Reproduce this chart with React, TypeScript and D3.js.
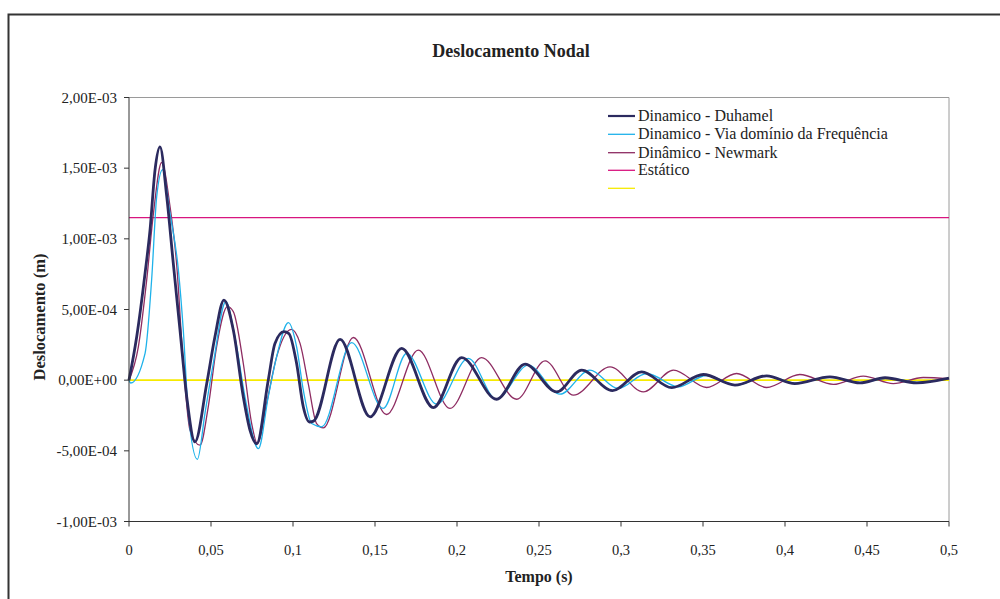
import React from "react";
import * as d3 from "d3";

// values in units of 1e-4 m ; time in s
const duhamel: [number, number][] = [
  [0, 0], [0.0047, 3.07], [0.0098, 7.57], [0.0128, 10.6], [0.0159, 14.9], [0.0189, 16.5],
  [0.023, 13], [0.027, 8.28], [0.0311, 3.55], [0.0352, -1.18], [0.0402, -4.37],
  [0.0474, -0.24], [0.0524, 3.07], [0.0579, 5.67], [0.0636, 3.55], [0.0697, -1.18],
  [0.0738, -3.55], [0.0779, -4.5], [0.0849, 0], [0.089, 2.6], [0.0945, 3.43], [0.0975, 3.3],
  [0.1022, 1.18], [0.1063, -1.9], [0.11, -2.96], [0.1125, -2.9], [0.1287, 2.88], [0.147, -2.6],
  [0.1663, 2.25], [0.1856, -1.94], [0.2028, 1.6], [0.2242, -1.35], [0.2415, 1.13],
  [0.2608, -0.83], [0.276, 0.71], [0.2948, -0.74], [0.3126, 0.59], [0.3309, -0.53],
  [0.3502, 0.4], [0.3695, -0.35], [0.3888, 0.31], [0.406, -0.24], [0.4274, 0.24],
  [0.4457, -0.19], [0.461, 0.17], [0.4803, -0.19], [0.5, 0.14],
];

const frequencia: [number, number][] = [
  [0, 0], [0.001, -0.2], [0.0098, 1.9], [0.0138, 7.1], [0.0169, 13], [0.0205, 14.9],
  [0.025, 11.8], [0.0301, 7.8], [0.0331, 3.55], [0.0362, -2.36], [0.0417, -5.6],
  [0.0463, -2.36], [0.0514, 1.18], [0.059, 5.55], [0.0646, 3.07], [0.0707, -1.18],
  [0.0789, -4.85], [0.0849, -1.18], [0.09, 1.65], [0.0972, 4.07], [0.1022, 2.36],
  [0.1063, -0.71], [0.1114, -3.07], [0.1175, -3.3], [0.1358, 2.65], [0.155, -2.0],
  [0.1693, 1.89], [0.1876, -1.7], [0.2069, 1.54], [0.224, -1.35], [0.2435, 1.06],
  [0.2628, -0.99], [0.281, 0.71], [0.2982, -0.59], [0.3157, 0.47], [0.335, -0.47],
  [0.352, 0.33], [0.3705, -0.35], [0.389, 0.31], [0.407, -0.22], [0.428, 0.22],
  [0.446, -0.17], [0.463, 0.15], [0.481, -0.15], [0.5, 0.12],
];

const newmark: [number, number][] = [
  [0, 0], [0.0057, 2.36], [0.0108, 7.1], [0.0149, 11.8], [0.0199, 15.4], [0.025, 12.3],
  [0.029, 8.28], [0.0331, 1.18], [0.0372, -3.55], [0.0433, -4.6], [0.0483, -1.9],
  [0.0534, 2.36], [0.06, 5.2], [0.0636, 4.85], [0.0697, 1.18], [0.0748, -3.07],
  [0.0783, -4.5], [0.0839, -1.65], [0.09, 1.65], [0.099, 3.6], [0.1043, 2.6],
  [0.1093, -0.24], [0.1144, -3.07], [0.1185, -3.38], [0.1368, 3.02], [0.157, -2.43],
  [0.1764, 2.13], [0.1957, -2.0], [0.215, 1.6], [0.2364, -1.35], [0.2537, 1.37],
  [0.271, -1.06], [0.2933, 0.94], [0.3136, -0.83], [0.332, 0.71], [0.3522, -0.52],
  [0.3705, 0.47], [0.3888, -0.52], [0.409, 0.4], [0.4295, -0.3], [0.4477, 0.28],
  [0.466, -0.24], [0.4843, 0.19], [0.5, 0.1],
];

const estatico = 11.5; // 1.15E-03 m
const zeroLine = 0;

const xTicks = [0, 0.05, 0.1, 0.15, 0.2, 0.25, 0.3, 0.35, 0.4, 0.45, 0.5];
const yTicks = [20, 15, 10, 5, 0, -5, -10];

const legendLabels = [
  "Dinamico - Duhamel",
  "Dinamico - Via domínio da Frequência",
  "Dinâmico - Newmark",
  "Estático",
  "",
];

const COLORS = {
  duhamel: "#2b2a5f",
  freq: "#1eb2ea",
  newmark: "#8e2c62",
  estatico: "#d8157f",
  zero: "#f6ea00",
};

const FONT = "'Liberation Serif', 'Times New Roman', serif";

function fmtY(v: number): string {
  const s = (v * 1e-4).toExponential(2);
  const [m, e] = s.split("e");
  const ei = parseInt(e, 10);
  const es = (ei < 0 ? "-" : "+") + String(Math.abs(ei)).padStart(2, "0");
  return m.replace(".", ",") + "E" + es;
}

function fmtX(v: number): string {
  return String(+v.toFixed(2)).replace(".", ",");
}

export default function App() {
  const x = d3.scaleLinear().domain([0, 0.5]).range([129, 949]);
  const y = d3.scaleLinear().domain([-10, 20]).range([521.5, 97.5]);
  const line = d3
    .line<[number, number]>()
    .x((d) => x(d[0]))
    .y((d) => y(d[1]))
    .curve(d3.curveMonotoneX);

  const [x0, x1] = x.range();
  const [yb, yt] = y.range();

  const legendColors = [COLORS.duhamel, COLORS.freq, COLORS.newmark, COLORS.estatico, COLORS.zero];
  const legendY = [116, 134.3, 152.7, 170.3, 188.3];

  return (
    <svg
      width={1000}
      height={599}
      style={{ position: "absolute", left: 0, top: 0, background: "#fff" }}
      fontFamily={FONT}
    >
      <rect x={0} y={0} width={1000} height={599} fill="#fff" />
      {/* outer chart border */}
      <path d="M8.5,600 L8.5,14.5 L1001,14.5" fill="none" stroke="#333" strokeWidth={2} />

      {/* title */}
      <text x={511} y={57} textAnchor="middle" fontWeight="bold" fontSize={18} fill="#222">
        Deslocamento Nodal
      </text>

      {/* plot area frame (top / right) */}
      <path d={`M${x0},${yt} L${x1},${yt} L${x1},${yb}`} fill="none" stroke="#9a9a9a" strokeWidth={1} />

      {/* static line */}
      <line x1={x0} x2={x1} y1={y(estatico)} y2={y(estatico)} stroke={COLORS.estatico} strokeWidth={1.2} />
      {/* zero line */}
      <line x1={x0} x2={x1} y1={y(zeroLine)} y2={y(zeroLine)} stroke={COLORS.zero} strokeWidth={1.6} />

      {/* series */}
      <path d={line(newmark) || ""} fill="none" stroke={COLORS.newmark} strokeWidth={1.3} />
      <path d={line(frequencia) || ""} fill="none" stroke={COLORS.freq} strokeWidth={1.3} />
      <path d={line(duhamel) || ""} fill="none" stroke={COLORS.duhamel} strokeWidth={2.8} />

      {/* axes */}
      <line x1={x0} x2={x0} y1={yt} y2={yb} stroke="#333" strokeWidth={1} />
      <line x1={x0} x2={x1} y1={yb} y2={yb} stroke="#333" strokeWidth={1} />
      {yTicks.map((t) => (
        <g key={"y" + t}>
          <line x1={x0 - 5} x2={x0} y1={y(t)} y2={y(t)} stroke="#333" strokeWidth={1} />
          <text x={117} y={y(t) + 5} textAnchor="end" fontSize={15} fill="#222">
            {fmtY(t)}
          </text>
        </g>
      ))}
      {xTicks.map((t) => (
        <g key={"x" + t}>
          <line x1={x(t)} x2={x(t)} y1={yb} y2={yb + 5} stroke="#333" strokeWidth={1} />
          <text x={x(t)} y={555} textAnchor="middle" fontSize={14.5} fill="#222">
            {fmtX(t)}
          </text>
        </g>
      ))}

      {/* axis titles */}
      <text x={539} y={582} textAnchor="middle" fontWeight="bold" fontSize={16} fill="#222">
        Tempo (s)
      </text>
      <text
        transform={`translate(45,${317}) rotate(-90)`}
        textAnchor="middle"
        fontWeight="bold"
        fontSize={16.5}
        fill="#222"
      >
        Deslocamento (m)
      </text>

      {/* legend */}
      {legendLabels.map((lab, i) => (
        <g key={"lg" + i}>
          <line x1={608} x2={635} y1={legendY[i]} y2={legendY[i]} stroke={legendColors[i]} strokeWidth={i === 0 ? 2.2 : 1.3} />
          <text x={638} y={legendY[i] + 5} fontSize={16} fill="#222">
            {lab}
          </text>
        </g>
      ))}
    </svg>
  );
}
